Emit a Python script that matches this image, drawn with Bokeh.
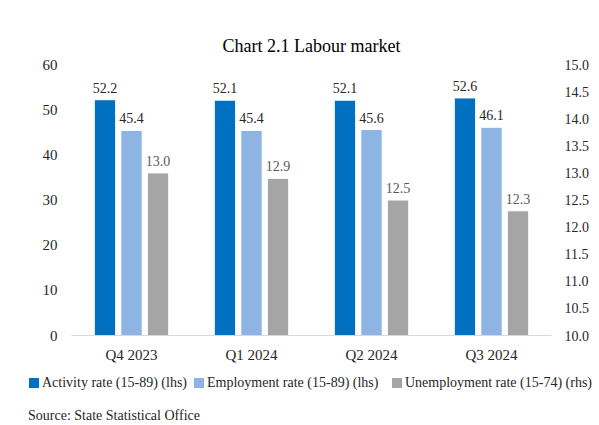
from bokeh.plotting import figure
from bokeh.models import (ColumnDataSource, Range1d, LinearAxis, FactorRange,
                          Title, FixedTicker, NumeralTickFormatter, Div)
from bokeh.layouts import column
from bokeh.transform import dodge
from bokeh.core.properties import value
from bokeh.embed import file_html
from bokeh.resources import INLINE

quarters = ["Q4 2023", "Q1 2024", "Q2 2024", "Q3 2024"]
activity = [52.2, 52.1, 52.1, 52.6]
employment = [45.4, 45.4, 45.6, 46.1]
unemployment = [13.0, 12.9, 12.5, 12.3]
left_ticks = [0, 10, 20, 30, 40, 50, 60]
right_ticks = [10.0, 10.5, 11.0, 11.5, 12.0, 12.5, 13.0, 13.5, 14.0, 14.5, 15.0]
series_names = ["Activity rate (15-89) (lhs)", "Employment rate (15-89) (lhs)",
                "Unemployment rate (15-74) (rhs)"]
source_text = "Source: State Statistical Office"

FONT = "Liberation Serif"
C_ACT = "#0070C0"
C_EMP = "#8DB4E2"
C_UNE = "#A5A5A5"
colors = [C_ACT, C_EMP, C_UNE]

src = ColumnDataSource(dict(
    q=quarters, act=activity, emp=employment, une=unemployment,
    act_l=[f"{v:.1f}" for v in activity],
    emp_l=[f"{v:.1f}" for v in employment],
    une_l=[f"{v:.1f}" for v in unemployment],
))

p = figure(x_range=FactorRange(*quarters, range_padding=0.0), y_range=Range1d(0, 60),
           width=599, height=368, output_backend="svg", toolbar_location=None,
           min_border_left=71, min_border_right=48, min_border_top=64, min_border_bottom=33)
p.extra_y_ranges = {"right": Range1d(10, 15)}

w = 0.178
off = 0.221
p.vbar(x=dodge("q", -off, range=p.x_range), top="act", width=w, source=src,
       fill_color=C_ACT, line_color="white", line_width=1)
p.vbar(x=dodge("q", 0.0, range=p.x_range), top="emp", width=w, source=src,
       fill_color=C_EMP, line_color="white", line_width=1)
p.vbar(x=dodge("q", off, range=p.x_range), top="une", bottom=10, width=w, source=src,
       fill_color=C_UNE, line_color="white", line_width=1, y_range_name="right")

lab_kw = dict(text_font=value(FONT), text_font_size="14px", text_align="center",
              text_baseline="bottom", y_offset=-7, source=src)
p.text(x=dodge("q", -off, range=p.x_range), y="act", text="act_l", text_color="#262626", **lab_kw)
p.text(x=dodge("q", 0.0, range=p.x_range), y="emp", text="emp_l", text_color="#262626", **lab_kw)
p.text(x=dodge("q", off, range=p.x_range), y="une", text="une_l", text_color="#595959",
       y_range_name="right", **lab_kw)

p.xgrid.visible = False
p.ygrid.visible = False
p.outline_line_color = None

xa = p.xaxis[0]
xa.axis_line_color = "#D9D9D9"
xa.major_tick_line_color = None
xa.minor_tick_line_color = None
xa.major_label_text_font = FONT
xa.major_label_text_font_size = "15px"
xa.major_label_text_color = "#262626"
xa.major_label_standoff = 5

ya = p.yaxis[0]
ya.ticker = FixedTicker(ticks=left_ticks)
ya.axis_line_color = None
ya.major_tick_line_color = None
ya.minor_tick_line_color = None
ya.major_label_text_font = FONT
ya.major_label_text_font_size = "15px"
ya.major_label_text_color = "#262626"
ya.major_label_standoff = 8

ra = LinearAxis(y_range_name="right", ticker=FixedTicker(ticks=right_ticks))
ra.axis_line_color = None
ra.major_tick_line_color = None
ra.minor_tick_line_color = None
ra.major_label_text_font = FONT
ra.major_label_text_font_size = "14px"
ra.major_label_text_color = "#262626"
ra.major_label_standoff = 7
ra.formatter = NumeralTickFormatter(format="0.0")
p.add_layout(ra, "right")

p.title = Title(text="Chart 2.1 Labour market", align="center", text_font=FONT,
                text_font_size="18px", text_font_style="normal", text_color="#000000", standoff=17)

# legend row (HTML), items placed at fixed x offsets
lefts = [24, 189, 387]
items = []
for name, col, lx in zip(series_names, colors, lefts):
    items.append(
        f'<span style="position:absolute;left:{lx}px;top:0;white-space:nowrap;">'
        f'<span style="display:inline-block;width:10px;height:10px;background:{col};'
        f'margin-right:3px;vertical-align:-1px;"></span>{name}</span>')
legend_div = Div(text="".join(items), width=599, height=26,
                 styles={"font-family": FONT, "font-size": "14px", "color": "#262626",
                         "line-height": "20px", "position": "relative"})

note = Div(text=source_text, width=599, height=24,
           styles={"font-family": FONT, "font-size": "14px", "color": "#262626",
                   "padding-left": "23px", "line-height": "18px", "margin-top": "3px"})

open("out.html", "w").write(file_html(column(p, legend_div, note, spacing=0), INLINE))
